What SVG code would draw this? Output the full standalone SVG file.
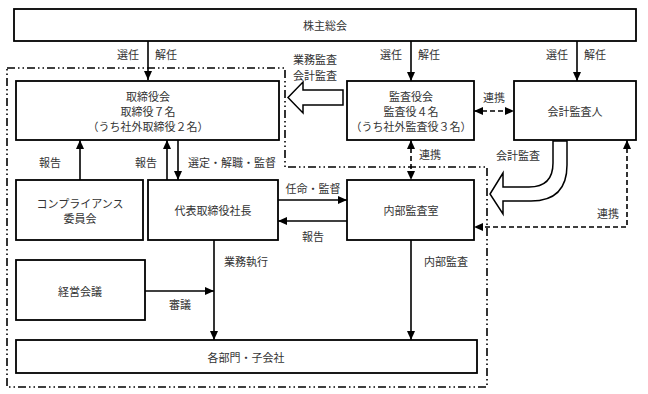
<svg xmlns="http://www.w3.org/2000/svg" width="648" height="394" viewBox="0 0 648 394">
<defs>
<marker id="ah" markerUnits="userSpaceOnUse" markerWidth="9" markerHeight="8" refX="9" refY="4" orient="auto-start-reverse"><path d="M0,0 L9,4 L0,8 Z" fill="#000"/></marker>
<style>
.box{fill:#fff;stroke:#000;stroke-width:1.8}
.t{font-family:"Noto Sans CJK JP","Noto Sans",sans-serif;font-size:11px;fill:#333;text-anchor:middle;dominant-baseline:central}
.ln{fill:none;stroke:#000;stroke-width:1.6}
.dl{fill:none;stroke:#000;stroke-width:1.6;stroke-dasharray:5 3}
.dd{fill:none;stroke:#000;stroke-width:1.6;stroke-dasharray:8 3 1.5 3 1.5 3}
.big{fill:#fff;stroke:#000;stroke-width:1.5}
</style>
</defs>
<rect width="648" height="394" fill="#fff"/>
<g id="region">
<path class="dd" d="M7,68 H285 V167 H487 V387 H7 Z"/>
</g>
<g id="connectors">
<line class="ln" x1="148" y1="41" x2="148" y2="80" marker-end="url(#ah)"/>
<line class="ln" x1="411" y1="41" x2="411" y2="81" marker-end="url(#ah)"/>
<line class="ln" x1="577" y1="41" x2="577" y2="81" marker-end="url(#ah)"/>
<text class="t" x="128" y="54">選任</text><text class="t" x="166" y="54">解任</text>
<text class="t" x="391" y="54">選任</text><text class="t" x="429" y="54">解任</text>
<text class="t" x="557" y="54">選任</text><text class="t" x="595" y="54">解任</text>
<path class="big" d="M343,90 H303 V82 L288,97.5 L303,113 V105 H343 Z"/>
<text class="t" x="315" y="59">業務監査</text>
<text class="t" x="315" y="75">会計監査</text>
<line class="dl" x1="474" y1="111" x2="514" y2="111" marker-start="url(#ah)" marker-end="url(#ah)"/>
<text class="t" x="494" y="97">連携</text>
<line class="dl" x1="411" y1="140" x2="411" y2="180" marker-start="url(#ah)" marker-end="url(#ah)"/>
<text class="t" x="430" y="154">連携</text>
<path class="big" d="M553,141 V163 Q553,187 529,187 H503 V173 L490,194 L503,214 V201 H531 Q567,201 567,165 V141 Z"/>
<text class="t" x="518" y="155">会計監査</text>
<path class="dl" d="M627,140 V227 H474" marker-start="url(#ah)" marker-end="url(#ah)"/>
<text class="t" x="608" y="213">連携</text>
<line class="ln" x1="80" y1="180" x2="80" y2="140" marker-end="url(#ah)"/>
<text class="t" x="50" y="162">報告</text>
<line class="ln" x1="167" y1="180" x2="167" y2="140" marker-end="url(#ah)"/>
<text class="t" x="146" y="162">報告</text>
<line class="ln" x1="178" y1="140" x2="178" y2="180" marker-end="url(#ah)"/>
<text class="t" x="232" y="162">選定・解職・監督</text>
<line class="ln" x1="278" y1="200" x2="347" y2="200" marker-end="url(#ah)"/>
<text class="t" x="313" y="188">任命・監督</text>
<line class="ln" x1="347" y1="221" x2="278" y2="221" marker-end="url(#ah)"/>
<text class="t" x="313" y="236">報告</text>
<line class="ln" x1="145" y1="291" x2="214" y2="291" marker-end="url(#ah)"/>
<text class="t" x="180" y="304">審議</text>
<line class="ln" x1="214" y1="240" x2="214" y2="340" marker-end="url(#ah)"/>
<text class="t" x="246" y="261">業務執行</text>
<line class="ln" x1="411" y1="240" x2="411" y2="340" marker-end="url(#ah)"/>
<text class="t" x="446" y="261">内部監査</text>
</g>
<g id="shareholders"><rect class="box" x="14" y="9" width="622" height="32"/><text class="t" x="325" y="25">株主総会</text></g>
<g id="board"><rect class="box" x="16" y="81" width="263" height="59"/><text class="t" x="148" y="96">取締役会</text><text class="t" x="148" y="111">取締役７名</text><text class="t" x="148" y="126">（うち社外取締役２名）</text></g>
<g id="auditors"><rect class="box" x="347" y="81" width="127" height="59"/><text class="t" x="411" y="96">監査役会</text><text class="t" x="411" y="111">監査役４名</text><text class="t" x="411" y="126">（うち社外監査役３名）</text></g>
<g id="accounting-auditor"><rect class="box" x="514" y="81" width="122" height="59"/><text class="t" x="575" y="111">会計監査人</text></g>
<g id="compliance"><rect class="box" x="16" y="180" width="127" height="60"/><text class="t" x="80" y="203">コンプライアンス</text><text class="t" x="80" y="218">委員会</text></g>
<g id="president"><rect class="box" x="148" y="180" width="130" height="60"/><text class="t" x="213" y="210">代表取締役社長</text></g>
<g id="internal-audit"><rect class="box" x="347" y="180" width="127" height="60"/><text class="t" x="411" y="210">内部監査室</text></g>
<g id="management"><rect class="box" x="16" y="260" width="129" height="60"/><text class="t" x="80" y="291">経営会議</text></g>
<g id="divisions"><rect class="box" x="16" y="340" width="461" height="33"/><text class="t" x="246" y="357">各部門・子会社</text></g>
</svg>
